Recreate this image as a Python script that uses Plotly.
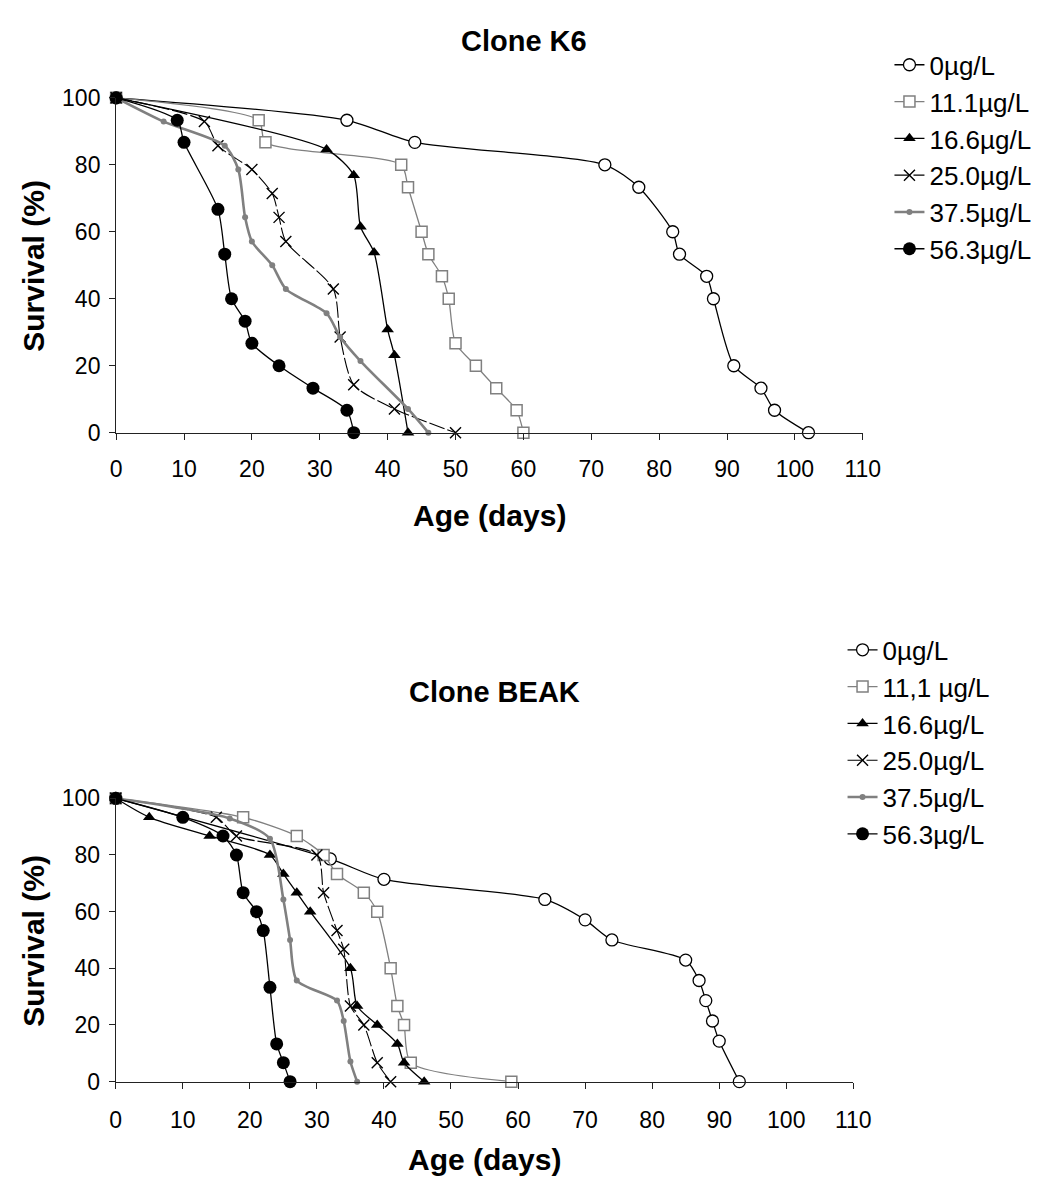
import plotly.graph_objects as go

# ---------------- data: survival (%) against age (days) ----------------
k6_labels = ["0µg/L", "11.1µg/L", "16.6µg/L", "25.0µg/L", "37.5µg/L", "56.3µg/L"]
beak_labels = ["0µg/L", "11,1 µg/L", "16.6µg/L", "25.0µg/L", "37.5µg/L", "56.3µg/L"]

# Clone K6
k6_0_age = [0, 34, 44, 72, 77, 82, 83, 87, 88, 91, 95, 97, 102]
k6_0_surv = [100, 93.3, 86.7, 80, 73.3, 60, 53.3, 46.7, 40, 20, 13.3, 6.7, 0]
k6_111_age = [0, 21, 22, 42, 43, 45, 46, 48, 49, 50, 53, 56, 59, 60]
k6_111_surv = [100, 93.3, 86.7, 80, 73.3, 60, 53.3, 46.7, 40, 26.7, 20, 13.3, 6.7, 0]
k6_166_age = [0, 31, 35, 36, 38, 40, 41, 43]
k6_166_surv = [100, 84.6, 76.9, 61.5, 53.8, 30.8, 23.1, 0]
k6_250_age = [0, 13, 15, 20, 23, 24, 25, 32, 33, 35, 41, 50]
k6_250_surv = [100, 92.9, 85.7, 78.6, 71.4, 64.3, 57.1, 42.9, 28.6, 14.3, 7.1, 0]
k6_375_age = [0, 7, 16, 18, 19, 20, 23, 25, 31, 33, 36, 43, 46]
k6_375_surv = [100, 92.9, 85.7, 78.6, 64.3, 57.1, 50, 42.9, 35.7, 28.6, 21.4, 7.1, 0]
k6_563_age = [0, 9, 10, 15, 16, 17, 19, 20, 24, 29, 34, 35]
k6_563_surv = [100, 93.3, 86.7, 66.7, 53.3, 40, 33.3, 26.7, 20, 13.3, 6.7, 0]

# Clone BEAK
beak_0_age = [0, 32, 40, 64, 70, 74, 85, 87, 88, 89, 90, 93]
beak_0_surv = [100, 78.6, 71.4, 64.3, 57.1, 50, 42.9, 35.7, 28.6, 21.4, 14.3, 0]
beak_111_age = [0, 19, 27, 31, 33, 37, 39, 41, 42, 43, 44, 59]
beak_111_surv = [100, 93.3, 86.7, 80, 73.3, 66.7, 60, 40, 26.7, 20, 6.7, 0]
beak_166_age = [0, 5, 14, 23, 25, 27, 29, 35, 36, 39, 42, 43, 46]
beak_166_surv = [100, 93.3, 86.7, 80, 73.3, 66.7, 60, 40, 26.7, 20, 13.3, 6.7, 0]
beak_250_age = [0, 15, 18, 30, 31, 33, 34, 35, 37, 39, 41]
beak_250_surv = [100, 93.3, 86.7, 80, 66.7, 53.3, 46.7, 26.7, 20, 6.7, 0]
beak_375_age = [0, 17, 23, 25, 26, 27, 33, 34, 35, 36]
beak_375_surv = [100, 92.9, 85.7, 64.3, 50, 35.7, 28.6, 21.4, 7.1, 0]
beak_563_age = [0, 10, 16, 18, 19, 21, 22, 23, 24, 25, 26]
beak_563_surv = [100, 93.3, 86.7, 80, 66.7, 60, 53.3, 33.3, 13.3, 6.7, 0]

# ---------------- geometry (pixels) ----------------
W, H = 1056, 1200
FONT = "Arial, Liberation Sans, sans-serif"
BLACK = "#000000"
GREY = "#808080"


def px_x(x):
    return x / W


def px_y(y):
    return 1 - y / H


styles = [
    dict(line=dict(color=BLACK, width=1.3),
         marker=dict(symbol="circle", size=12, color="white", line=dict(color=BLACK, width=1.3))),
    dict(line=dict(color=GREY, width=1.3),
         marker=dict(symbol="square", size=11, color="white", line=dict(color=GREY, width=1.5))),
    dict(line=dict(color=BLACK, width=1.3),
         marker=dict(symbol="triangle-up", size=11, color=BLACK, line=dict(color=BLACK, width=0))),
    dict(line=dict(color=BLACK, width=1.1, dash="16px,3px"),
         marker=dict(symbol="x-thin-open", size=11, color=BLACK, line=dict(color=BLACK, width=1.4))),
    dict(line=dict(color=GREY, width=2.6),
         marker=dict(symbol="circle", size=6, color=GREY, line=dict(width=0))),
    dict(line=dict(color=BLACK, width=1.3),
         marker=dict(symbol="circle", size=13, color=BLACK, line=dict(width=0))),
]

k6_series = [(k6_0_age, k6_0_surv), (k6_111_age, k6_111_surv), (k6_166_age, k6_166_surv),
             (k6_250_age, k6_250_surv), (k6_375_age, k6_375_surv), (k6_563_age, k6_563_surv)]
beak_series = [(beak_0_age, beak_0_surv), (beak_111_age, beak_111_surv),
               (beak_166_age, beak_166_surv), (beak_250_age, beak_250_surv),
               (beak_375_age, beak_375_surv), (beak_563_age, beak_563_surv)]

fig = go.Figure()

for (age, surv), name, st in zip(k6_series, k6_labels, styles):
    fig.add_trace(go.Scatter(
        x=age, y=surv, name=name, mode="lines+markers",
        line=dict(shape="spline", smoothing=0.7, **st["line"]),
        marker=st["marker"], cliponaxis=False,
        xaxis="x", yaxis="y", legend="legend"))

for (age, surv), name, st in zip(beak_series, beak_labels, styles):
    fig.add_trace(go.Scatter(
        x=age, y=surv, name=name, mode="lines+markers",
        line=dict(shape="spline", smoothing=0.7, **st["line"]),
        marker=st["marker"], cliponaxis=False,
        xaxis="x2", yaxis="y2", legend="legend2"))

axis_common = dict(showgrid=False, zeroline=False, showline=True, linecolor="#222222",
                   linewidth=1.2, ticks="outside", ticklen=6, tickwidth=1.2,
                   tickcolor="#222222", tickfont=dict(family=FONT, size=23, color=BLACK))

fig.update_layout(
    width=W, height=H, margin=dict(l=0, r=0, t=0, b=0),
    paper_bgcolor="white", plot_bgcolor="white",
    font=dict(family=FONT, color=BLACK),
    xaxis=dict(domain=[px_x(112.7), px_x(876.7)], range=[0, 110], dtick=10, anchor="y",
               ticklabelstandoff=10, **axis_common),
    yaxis=dict(domain=[px_y(429), px_y(86.7)], range=[0, 100], dtick=20, anchor="x",
               ticklabelstandoff=4, **axis_common),
    xaxis2=dict(domain=[px_x(112.3), px_x(867)], range=[0, 110], dtick=10, anchor="y2",
                ticklabelstandoff=12, **axis_common),
    yaxis2=dict(domain=[px_y(1092.3), px_y(802.7)], range=[0, 100], dtick=20, anchor="x2",
                ticklabelstandoff=4, **axis_common),
    legend=dict(x=px_x(904), y=px_y(29), xanchor="left", yanchor="top",
                font=dict(family=FONT, size=26, color=BLACK), bgcolor="rgba(0,0,0,0)",
                itemwidth=30, tracegroupgap=0),
    legend2=dict(x=px_x(856), y=px_y(627), xanchor="left", yanchor="top",
                 font=dict(family=FONT, size=26, color=BLACK), bgcolor="rgba(0,0,0,0)",
                 itemwidth=30, tracegroupgap=0),
)

# Chart titles and axis titles
texts = [
    ("<b>Clone K6</b>", 530, 29, 0, 29),
    ("<b>Age (days)</b>", 495, 514, 0, 30),
    ("<b>Survival (%)</b>", 28, 258, -90, 30),
    ("<b>Clone BEAK</b>", 500, 694, 0, 29),
    ("<b>Age (days)</b>", 490, 1172, 0, 30),
    ("<b>Survival (%)</b>", 28, 948, -90, 30),
]
for txt, px, py, ang, size in texts:
    fig.add_annotation(text=txt, x=px_x(px), y=px_y(py), xref="paper", yref="paper",
                       xanchor="center", yanchor="middle", showarrow=False, textangle=ang,
                       font=dict(family=FONT, size=size, color=BLACK))

fig.write_html("out.html")
